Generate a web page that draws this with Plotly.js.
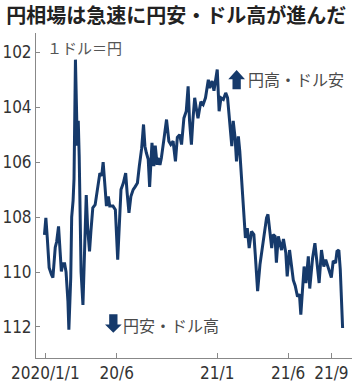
<!DOCTYPE html>
<html>
<head>
<meta charset="utf-8">
<script src="https://cdn.plot.ly/plotly-3.0.1.min.js"></script>
<style>html,body{margin:0;padding:0;background:#fff;}#chart{width:362px;height:387px;}</style>
</head>
<body>
<div id="chart"></div>
<script>
const dates = [
'2019-12-30','2020-01-02','2020-01-05','2020-01-09','2020-01-14','2020-01-17','2020-01-22','2020-01-25','2020-01-29','2020-01-31',
'2020-02-04','2020-02-07','2020-02-11','2020-02-14','2020-02-18','2020-02-20','2020-02-24','2020-02-26','2020-02-29','2020-03-02',
'2020-03-05','2020-03-09','2020-03-11','2020-03-13','2020-03-15','2020-03-17','2020-03-21','2020-03-24','2020-03-28','2020-03-31',
'2020-04-04','2020-04-07','2020-04-11','2020-04-16','2020-04-22','2020-04-26','2020-04-30','2020-05-03','2020-05-07','2020-05-10',
'2020-05-14','2020-05-17','2020-05-24','2020-05-29','2020-06-03','2020-06-07','2020-06-10','2020-06-15','2020-06-20','2020-06-23',
'2020-06-27','2020-07-01','2020-07-06','2020-07-10','2020-07-15','2020-07-19','2020-07-24','2020-07-28','2020-07-31','2020-08-03',
'2020-08-07','2020-08-10','2020-08-15','2020-08-19','2020-08-22','2020-08-26','2020-08-28','2020-09-01','2020-09-04','2020-09-10',
'2020-09-15','2020-09-20','2020-09-24','2020-09-29','2020-10-04','2020-10-08','2020-10-13','2020-10-17','2020-10-22','2020-10-27',
'2020-10-31','2020-11-03','2020-11-07','2020-11-10','2020-11-14','2020-11-17','2020-11-21','2020-11-27','2020-12-02','2020-12-07',
'2020-12-13','2020-12-16','2020-12-21','2020-12-25','2021-01-01','2021-01-05','2021-01-09','2021-01-14','2021-01-19','2021-01-23',
'2021-01-28','2021-02-01','2021-02-04','2021-02-08','2021-02-11','2021-02-15','2021-02-18','2021-02-22','2021-02-25','2021-02-27',
'2021-03-02','2021-03-06','2021-03-10','2021-03-15','2021-03-20','2021-03-23','2021-03-28','2021-04-02','2021-04-05','2021-04-11',
'2021-04-16','2021-04-19','2021-04-23','2021-04-27','2021-04-30','2021-05-04','2021-05-07','2021-05-11','2021-05-18','2021-05-22',
'2021-05-27','2021-05-30','2021-06-04','2021-06-09','2021-06-12','2021-06-16','2021-06-21','2021-06-25','2021-06-28','2021-07-01',
'2021-07-05','2021-07-09','2021-07-14','2021-07-17','2021-07-23','2021-07-28','2021-08-02','2021-08-06','2021-08-11','2021-08-16',
'2021-08-20','2021-08-25','2021-09-01','2021-09-05','2021-09-10','2021-09-13','2021-09-17','2021-09-20','2021-09-25'
];
const yenPerDollar = [
108.65,108.03,108.75,109.84,110.1,110.2,109.1,108.9,108.34,109.0,
109.98,109.7,109.7,110.0,111.07,112.1,110.2,108.0,107.4,106.6,
102.27,105.4,104.5,105.8,107.8,110.0,111.2,109.5,107.2,108.4,
109.25,108.5,107.66,107.55,106.9,106.4,106.5,106.0,106.9,107.6,
107.25,107.6,107.6,107.73,109.55,107.73,107.0,106.76,106.4,107.1,
107.85,107.25,107.0,106.9,106.76,106.15,105.5,104.63,105.42,105.66,
105.9,106.9,105.3,106.15,105.4,106.1,105.85,106.1,105.85,105.1,
104.45,105.24,105.36,105.24,105.97,105.1,105.0,105.36,104.4,104.15,
103.24,104.5,105.36,104.5,103.66,104.0,104.4,103.8,103.9,103.66,
103.0,103.3,103.05,103.4,102.63,104.15,103.66,103.72,103.48,103.66,
104.75,105.42,104.5,105.12,105.97,105.06,105.6,106.7,107.18,108.16,
108.76,108.4,109.13,108.52,108.64,109.37,110.7,109.73,109.37,108.64,
108.03,107.9,108.52,109.13,108.64,108.7,109.66,108.7,109.2,108.8,
109.3,110.16,109.2,109.8,110.3,110.5,110.9,110.8,111.55,110.8,
109.8,110.4,109.43,110.6,109.5,108.95,109.8,110.4,109.2,109.8,
109.55,109.8,110.2,109.6,109.67,109.25,109.2,109.9,112.04
];
const xTickVals = ['2020-01-01','2020-06-01','2021-01-01','2021-06-01','2021-09-01'];
const xTickText = ['2020/1/1','20/6','21/1','21/6','21/9'];
const yTickVals = [102,104,106,108,110,112];
const yTickText = ['102','104','106','108','110','112'];

const jp = '"Noto Sans CJK JP", "Noto Sans", sans-serif';
const narrow = '"Liberation Sans Narrow", "DejaVu Sans Condensed", "Liberation Sans", sans-serif';

const trace = {
  x: dates, y: yenPerDollar, type: 'scatter', mode: 'lines',
  line: {color: '#163a6b', width: 3}, hoverinfo: 'skip'
};

const layout = {
  width: 362, height: 387,
  margin: {l: 36, r: 10, t: 33, b: 29},
  paper_bgcolor: '#fff', plot_bgcolor: '#fff',
  showlegend: false,
  title: {
    text: '<b>円相場は急速に円安・ドル高が進んだ</b>',
    font: {family: jp, size: 20, color: '#222'},
    x: 0.017, xanchor: 'left', xref: 'container',
    y: 0.958, yanchor: 'middle', yref: 'container'
  },
  xaxis: {
    type: 'date', range: ['2019-12-12', '2021-10-15'],
    tickmode: 'array', tickvals: xTickVals, ticktext: xTickText,
    ticks: 'inside', ticklen: 5, tickcolor: '#888', tickwidth: 1,
    showline: true, linecolor: '#888', linewidth: 1,
    showgrid: false, zeroline: false,
    tickfont: {family: narrow, size: 17, color: '#333'}
  },
  yaxis: {
    range: [113.13, 101.3],
    tickmode: 'array', tickvals: yTickVals, ticktext: yTickText,
    ticks: 'inside', ticklen: 4, tickcolor: '#888', tickwidth: 1,
    showline: true, linecolor: '#888', linewidth: 1,
    showgrid: false, zeroline: false,
    tickfont: {family: narrow, size: 17, color: '#333'}
  },
  annotations: [
    {text: '１ドル＝円', xref: 'paper', yref: 'paper', x: 0.028, y: 0.954,
     xanchor: 'left', yanchor: 'middle', showarrow: false,
     font: {family: jp, size: 15, color: '#555'}},
    {text: '円高・ドル安', xref: 'paper', yref: 'paper', x: 0.665, y: 0.8585,
     xanchor: 'left', yanchor: 'middle', showarrow: false,
     font: {family: jp, size: 16, color: '#4a4a4a'}},
    {text: '円安・ドル高', xref: 'paper', yref: 'paper', x: 0.270, y: 0.1015,
     xanchor: 'left', yanchor: 'middle', showarrow: false,
     font: {family: jp, size: 16, color: '#4a4a4a'}}
  ],
  shapes: [
    {type: 'path', xref: 'paper', yref: 'paper',
     path: 'M 0.6085,0.8575 L 0.6348,0.8862 L 0.6614,0.8575 L 0.6481,0.8575 L 0.6481,0.8268 L 0.6218,0.8268 L 0.6218,0.8575 Z',
     fillcolor: '#163a6b', line: {width: 0}},
    {type: 'path', xref: 'paper', yref: 'paper',
     path: 'M 0.2184,0.1031 L 0.2446,0.0778 L 0.2712,0.1031 L 0.2579,0.1031 L 0.2579,0.1345 L 0.2316,0.1345 L 0.2316,0.1031 Z',
     fillcolor: '#163a6b', line: {width: 0}}
  ]
};

Plotly.newPlot('chart', [trace], layout, {displayModeBar: false, staticPlot: true});
</script>
</body>
</html>
